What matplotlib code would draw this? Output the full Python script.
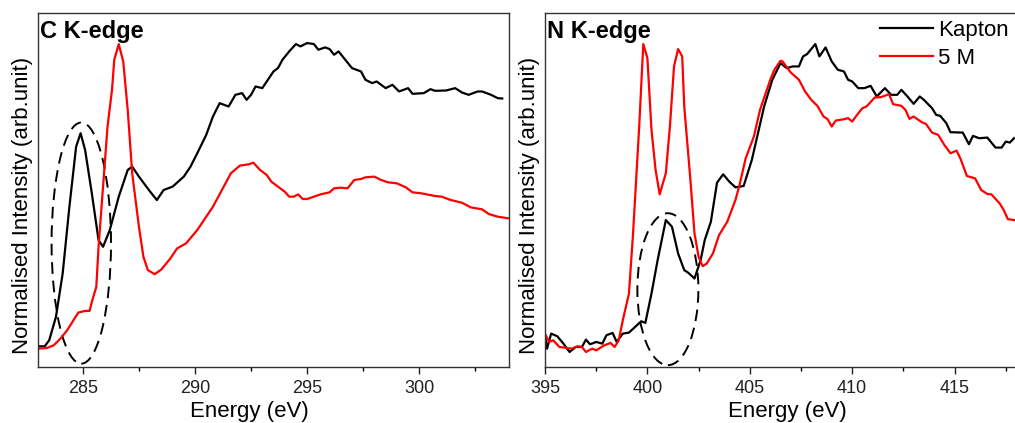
import matplotlib.pyplot as plt
from matplotlib.patches import Ellipse
from matplotlib.ticker import MultipleLocator

plt.rcParams["font.family"] = ["Liberation Sans", "DejaVu Sans"]

# C K-edge
c_energy_kapton = [283.0, 283.3, 283.5, 283.8, 284.1, 284.4, 284.7, 284.9, 285.1, 285.4,
                   285.7, 285.9, 286.2, 286.6, 287.0, 287.2, 287.5, 288.0, 288.3, 288.6,
                   289.0, 289.5, 289.8, 290.1, 290.5, 290.8, 291.1, 291.5, 291.8, 292.1,
                   292.3, 292.5, 292.7, 293.0, 293.2, 293.5, 293.7, 293.9, 294.2, 294.5,
                   294.7, 295.0, 295.3, 295.5, 295.8, 296.0, 296.2, 296.4, 296.7, 297.0,
                   297.4, 297.6, 297.9, 298.1, 298.5, 298.8, 299.1, 299.5, 299.7, 300.2,
                   300.5, 300.7, 301.2, 301.6, 301.9, 302.2, 302.6, 302.8, 303.2, 303.5,
                   303.7]
c_kapton = [0.062, 0.062, 0.08, 0.15, 0.28, 0.48, 0.66, 0.70, 0.65, 0.52,
            0.38, 0.36, 0.41, 0.51, 0.59, 0.60, 0.57, 0.525, 0.50, 0.53,
            0.54, 0.57, 0.60, 0.64, 0.695, 0.75, 0.79, 0.78, 0.815, 0.82,
            0.80, 0.815, 0.84, 0.835, 0.855, 0.885, 0.895, 0.92, 0.945, 0.967,
            0.96, 0.97, 0.967, 0.95, 0.957, 0.952, 0.935, 0.945, 0.92, 0.895,
            0.885, 0.86, 0.85, 0.855, 0.835, 0.845, 0.825, 0.835, 0.818, 0.82,
            0.832, 0.827, 0.828, 0.835, 0.822, 0.815, 0.825, 0.825, 0.815, 0.805,
            0.804]

c_energy_5m = [283.0, 283.4, 283.7, 284.0, 284.3, 284.6, 284.8, 285.1, 285.3, 285.4,
               285.6, 285.7, 285.9, 286.1, 286.3, 286.4, 286.6, 286.8, 287.0, 287.2,
               287.5, 287.7, 287.9, 288.2, 288.5, 288.9, 289.2, 289.6, 290.1, 290.5,
               290.8, 291.2, 291.6, 292.0, 292.4, 292.6, 292.9, 293.2, 293.4, 293.7,
               294.0, 294.2, 294.4, 294.6, 294.8, 295.0, 295.3, 295.6, 296.0, 296.2,
               296.5, 296.8, 297.1, 297.4, 297.6, 298.0, 298.3, 298.6, 299.0, 299.4,
               299.7, 300.1, 300.7, 301.0, 301.4, 301.9, 302.3, 302.8, 303.1, 303.5,
               304.0]
c_5m = [0.055, 0.057, 0.065, 0.085, 0.11, 0.142, 0.163, 0.168, 0.168, 0.195,
        0.24, 0.36, 0.54, 0.72, 0.83, 0.92, 0.967, 0.915, 0.77, 0.58,
        0.42, 0.33, 0.29, 0.278, 0.292, 0.325, 0.355, 0.37, 0.41, 0.45,
        0.48, 0.53, 0.58, 0.603, 0.607, 0.612, 0.59, 0.575, 0.555, 0.54,
        0.525, 0.51, 0.51, 0.517, 0.503, 0.503, 0.51, 0.517, 0.523, 0.535,
        0.537, 0.535, 0.56, 0.563, 0.568, 0.57, 0.56, 0.553, 0.55, 0.538,
        0.523, 0.52, 0.512, 0.51, 0.50, 0.492, 0.478, 0.472, 0.458, 0.45,
        0.445]

# N K-edge
n_energy_kapton = [395.0, 395.1, 395.3, 395.6, 395.9, 396.2, 396.5, 396.8, 397.0, 397.2,
                   397.5, 397.8, 398.0, 398.3, 398.5, 398.8, 399.1, 399.4, 399.7, 399.9,
                   400.2, 400.5, 400.9, 401.2, 401.5, 401.8, 402.0, 402.3, 402.6, 402.8,
                   403.1, 403.4, 403.7, 404.0, 404.3, 404.7, 405.1, 405.4, 405.7, 406.1,
                   406.5, 406.8, 407.1, 407.4, 407.6, 407.8, 408.2, 408.4, 408.7, 409.0,
                   409.3, 409.6, 409.8, 410.0, 410.3, 410.6, 410.9, 411.2, 411.6, 411.9,
                   412.2, 412.4, 412.7, 413.0, 413.3, 413.5, 413.9, 414.1, 414.3, 414.6,
                   414.8, 415.4, 415.7, 415.9, 416.2, 416.6, 417.0, 417.3, 417.5, 417.7,
                   417.9]
n_kapton = [0.095, 0.055, 0.10, 0.092, 0.07, 0.045, 0.06, 0.06, 0.082, 0.068,
            0.075, 0.07, 0.095, 0.102, 0.075, 0.10, 0.103, 0.12, 0.137, 0.132,
            0.22, 0.32, 0.44, 0.42, 0.34, 0.29, 0.282, 0.265, 0.32, 0.38,
            0.435, 0.552, 0.577, 0.555, 0.538, 0.542, 0.62, 0.70, 0.78, 0.86,
            0.91, 0.895, 0.90, 0.90, 0.93, 0.937, 0.967, 0.93, 0.957, 0.915,
            0.89, 0.885, 0.86, 0.855, 0.835, 0.835, 0.842, 0.81, 0.835, 0.815,
            0.815, 0.83, 0.81, 0.788, 0.81, 0.80, 0.775, 0.755, 0.752, 0.73,
            0.703, 0.702, 0.667, 0.692, 0.685, 0.687, 0.657, 0.657, 0.675, 0.672,
            0.685]

n_energy_5m = [395.0, 395.2, 395.4, 395.7, 396.3, 396.6, 396.8, 397.0, 397.3, 397.5,
               397.9, 398.2, 398.4, 398.6, 398.8, 399.1, 399.3, 399.6, 399.8, 400.0,
               400.2, 400.4, 400.6, 400.9, 401.1, 401.3, 401.5, 401.7, 401.8, 402.1,
               402.3, 402.5, 402.7, 402.9, 403.2, 403.5, 403.9, 404.3, 404.5, 404.8,
               405.2, 405.5, 406.0, 406.2, 406.5, 406.6, 407.0, 407.4, 407.7, 408.0,
               408.3, 408.6, 408.8, 409.0, 409.2, 409.6, 409.8, 410.0, 410.3, 410.5,
               410.7, 411.1, 411.4, 411.8, 412.0, 412.4, 412.6, 412.8, 413.0, 413.4,
               413.6, 413.9, 414.2, 414.5, 414.8, 415.1, 415.3, 415.6, 416.0, 416.3,
               416.6, 416.8, 417.2, 417.4, 417.6, 417.9]
n_5m = [0.10, 0.075, 0.08, 0.06, 0.055, 0.062, 0.06, 0.045, 0.055, 0.05,
        0.065, 0.072, 0.06, 0.08, 0.14, 0.22, 0.40, 0.72, 0.967, 0.925,
        0.71, 0.59, 0.517, 0.58, 0.72, 0.90, 0.952, 0.93, 0.78, 0.56,
        0.40, 0.33, 0.302, 0.31, 0.34, 0.395, 0.435, 0.50, 0.545, 0.625,
        0.69, 0.77, 0.86, 0.89, 0.917, 0.915, 0.882, 0.86, 0.825, 0.80,
        0.782, 0.75, 0.742, 0.72, 0.738, 0.742, 0.745, 0.735, 0.76, 0.775,
        0.78, 0.807, 0.808, 0.817, 0.787, 0.782, 0.77, 0.743, 0.75, 0.733,
        0.728, 0.702, 0.695, 0.665, 0.64, 0.648, 0.622, 0.572, 0.565, 0.53,
        0.518, 0.517, 0.49, 0.47, 0.443, 0.44]

W, H = 1015, 423
fig = plt.figure(figsize=(W / 100, H / 100), dpi=100)
ax1 = fig.add_axes([38 / W, 56 / H, 471 / W, 354 / H])
ax2 = fig.add_axes([545 / W, 56 / H, 471 / W, 354 / H])

panels = [
    (ax1, c_energy_kapton, c_kapton, c_energy_5m, c_5m, (283, 304), "C K-edge",
     (284.93, 0.371, 2.65, 0.722), 0.449),
    (ax2, n_energy_kapton, n_kapton, n_energy_5m, n_5m, (395, 418), "N K-edge",
     (401.0, 0.233, 2.98, 0.455), 0.514),
]

for ax, ek, yk, er, yr, xlim, title, ell, xlab_x in panels:
    ax.plot(ek, yk, color="black", lw=1.6, label="Kapton")
    ax.plot(er, yr, color="#ff0000", lw=1.6, label="5 M")
    ax.add_patch(Ellipse((ell[0], ell[1]), ell[2], ell[3], fill=False,
                         edgecolor="black", lw=1.4, linestyle=(0, (6, 3.5))))
    ax.set_xlim(*xlim)
    ax.set_ylim(0, 1.06)
    ax.set_yticks([])
    ax.xaxis.set_major_locator(MultipleLocator(5))
    ax.xaxis.set_minor_locator(MultipleLocator(2.5))
    ax.tick_params(axis="x", which="major", direction="out", length=5, width=1,
                   labelsize=13, pad=4, colors="#222222")
    ax.tick_params(axis="x", which="minor", direction="out", length=3, width=1)
    for s in ax.spines.values():
        s.set_color("#333333")
        s.set_linewidth(1)
    ax.set_xlabel("Energy (eV)", fontsize=16)
    ax.set_ylabel("Normalised Intensity (arb.unit)", fontsize=16)
    ax.xaxis.set_label_coords(xlab_x, -0.095)
    ax.yaxis.set_label_coords(-0.011, 0.455)
    ax.text(0.005, 0.98, title, transform=ax.transAxes, ha="left", va="top",
            fontsize=17, fontweight="bold")

ax2.legend(loc="upper left", bbox_to_anchor=(880 / W, 1 - 20 / H),
           bbox_transform=fig.transFigure, frameon=False, fontsize=16,
           handlelength=2.4, handletextpad=0.2, labelspacing=0.32,
           borderpad=0, borderaxespad=0)

fig.savefig("out.png", dpi=100)
